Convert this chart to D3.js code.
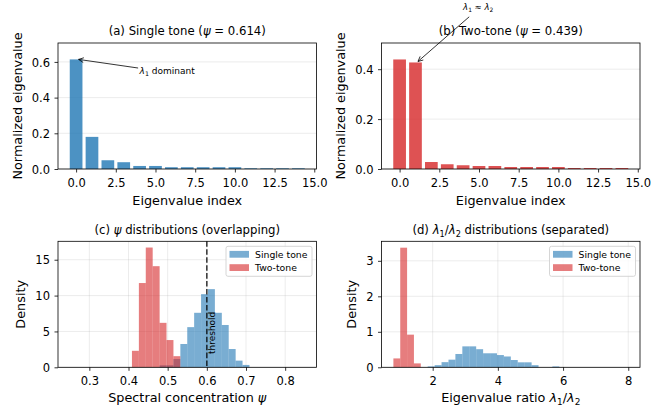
<!DOCTYPE html>
<html><head><meta charset="utf-8">
<script src="https://cdn.jsdelivr.net/npm/d3@7"></script>
<style>
body{margin:0;background:#fff;}
text{font-family:"DejaVu Sans",sans-serif;fill:#000;}
</style>
</head><body>
<svg id="chart" width="662" height="408"></svg>
<script>
// ---------------- data ----------------
const eigIndex = [0,1,2,3,4,5,6,7,8,9,10,11,12,13,14];
const singleEig = [0.614,0.180,0.049,0.038,0.017,0.017,0.010,0.010,0.010,0.010,0.010,0.004,0.004,0.004,0.004];
const twoEig    = [0.439,0.427,0.028,0.019,0.015,0.012,0.012,0.008,0.008,0.008,0.008,0.004,0.004,0.004,0.004];
const eigTicks  = [0,2.5,5,7.5,10,12.5,15];
const eigYTicksA = [0,0.2,0.4,0.6];
const eigYTicksB = [0,0.2,0.4];

// psi histogram (density), shared bins
const psiBinLeft  = [0.4088,0.4265,0.4441,0.4618,0.4794,0.4971,0.5147,0.5324,0.5500,0.5676,0.5853,0.6029,0.6206,0.6382,0.6559,0.6735,0.6912];
const psiBinWidth = 0.01765;
const psiSingle   = [0,0,0,0,0.28,0.28,1.15,3.25,5.6,7.6,10.2,10.9,7.6,5.9,2.55,0.93,0.33];
const psiTwo      = [2.3,11.75,16.7,14.1,6.2,3.8,1.55,0,0,0,0,0,0,0,0,0,0];
const psiXTicks   = [0.3,0.4,0.5,0.6,0.7,0.8];
const psiYTicks   = [0,5,10,15];
const psiThreshold = 0.6;

// eigenvalue ratio histogram (density)
const ratioSingleLeft = [1.847,2.060,2.272,2.485,2.697,2.910,3.122,3.335,3.547,3.760,3.972,4.185,4.397,4.610,4.822,5.035,5.247,5.460,5.672];
const ratioSingleWidth = 0.2125;
const ratioSingle = [0.025,0.06,0.145,0.215,0.375,0.59,0.59,0.51,0.395,0.395,0.345,0.305,0.205,0.14,0.14,0.06,0,0,0.025];
const ratioTwoLeft = [0.795,1.005,1.215,1.425];
const ratioTwoWidth = 0.21;
const ratioTwo = [0.25,3.37,0.92,0.11];
const ratioXTicks = [2,4,6,8];
const ratioYTicks = [0,1,2,3];

// ---------------- style ----------------
const BLUE = "#1f77b4", RED = "#d62728";
const TICK_FS = 11.5, LABEL_FS = 12.8, TITLE_FS = 11.7, LEG_FS = 9.3;

const svg = d3.select("#chart");

function rich(textSel, segs, fs) {
  let shift = 0;
  segs.forEach(s => {
    const ts = textSel.append("tspan").text(s.t);
    if (s.i) ts.attr("font-style", "italic");
    const want = s.sub ? fs * 0.28 : 0;
    if (want !== shift) { ts.attr("dy", want - shift); shift = want; }
    if (s.sub) ts.attr("font-size", fs * 0.7);
  });
  return textSel;
}

function makePanel(cfg) {
  const g = svg.append("g");
  const x = cfg.x, y = cfg.y;
  const [x0, x1] = x.range(), [yb, yt] = y.range();
  // grid
  const grid = g.append("g");
  if (cfg.xgrid) grid.selectAll("line.vx").data(cfg.xticks).join("line")
      .attr("x1", d => x(d)).attr("x2", d => x(d)).attr("y1", yt).attr("y2", yb)
      .attr("stroke", "#b0b0b0").attr("stroke-opacity", 0.3).attr("stroke-width", 0.8);
  grid.selectAll("line.hy").data(cfg.yticks).join("line")
      .attr("x1", x0).attr("x2", x1).attr("y1", d => y(d)).attr("y2", d => y(d))
      .attr("stroke", "#b0b0b0").attr("stroke-opacity", 0.3).attr("stroke-width", 0.8);
  cfg.draw(g);
  // axes
  const ax = g.append("g").attr("transform", `translate(0,${yb})`)
    .call(d3.axisBottom(x).tickValues(cfg.xticks).tickFormat(cfg.xfmt).tickSize(3.5).tickSizeOuter(0).tickPadding(3.5));
  const ay = g.append("g").attr("transform", `translate(${x0},0)`)
    .call(d3.axisLeft(y).tickValues(cfg.yticks).tickFormat(cfg.yfmt).tickSize(3.5).tickSizeOuter(0).tickPadding(4.5));
  [ax, ay].forEach(a => {
    a.select(".domain").remove();
    a.selectAll("line").attr("stroke", "#000").attr("stroke-width", 0.8);
    a.selectAll("text").attr("font-size", TICK_FS).attr("font-family", "DejaVu Sans").attr("fill", "#000");
  });
  ax.selectAll("text").attr("y", 17.9).attr("dy", null);
  ay.selectAll("text").attr("dy", "0.36em");
  // frame
  g.append("rect").attr("x", x0).attr("y", yt).attr("width", x1 - x0).attr("height", yb - yt)
    .attr("fill", "none").attr("stroke", "#000").attr("stroke-width", 0.8);
  // title
  rich(g.append("text").attr("x", (x0 + x1) / 2).attr("y", cfg.titleY).attr("text-anchor", "middle")
    .attr("font-size", TITLE_FS), cfg.title, TITLE_FS);
  // x label
  rich(g.append("text").attr("x", (x0 + x1) / 2).attr("y", cfg.xlabelY).attr("text-anchor", "middle")
    .attr("font-size", LABEL_FS), cfg.xlabel, LABEL_FS);
  // y label
  g.append("text").attr("transform", `translate(${cfg.ylabelX},${(yt + yb) / 2}) rotate(-90)`)
    .attr("text-anchor", "middle").attr("font-size", LABEL_FS).text(cfg.ylabel);
  return g;
}

function bars(g, x, y, vals, color, op) {
  g.append("g").selectAll("rect").data(eigIndex).join("rect")
    .attr("x", i => x(i - 0.4)).attr("width", i => x(i + 0.4) - x(i - 0.4))
    .attr("y", i => y(vals[i])).attr("height", i => y(0) - y(vals[i]))
    .attr("fill", color).attr("fill-opacity", op);
}
function hist(g, x, y, lefts, w, vals, color, op) {
  g.append("g").selectAll("rect").data(lefts.map((l, i) => [l, vals[i]]).filter(d => d[1] > 0)).join("rect")
    .attr("x", d => x(d[0])).attr("width", d => x(d[0] + w) - x(d[0]))
    .attr("y", d => y(d[1])).attr("height", d => y(0) - y(d[1]))
    .attr("fill", color).attr("fill-opacity", op);
}
function arrow(g, sx, sy, tx, ty) {
  g.append("line").attr("x1", sx).attr("y1", sy).attr("x2", tx).attr("y2", ty)
    .attr("stroke", "#000").attr("stroke-width", 0.8);
  const ang = Math.atan2(ty - sy, tx - sx), L = 5, Wd = 2.4;
  const bx = tx - L * Math.cos(ang), by = ty - L * Math.sin(ang);
  const px = -Math.sin(ang) * Wd, py = Math.cos(ang) * Wd;
  g.append("path").attr("d", `M${bx + px},${by + py}L${tx},${ty}L${bx - px},${by - py}`)
    .attr("fill", "none").attr("stroke", "#000").attr("stroke-width", 0.8);
}
function legend(g, xr, yt) {
  const w = 86, h = 30, lx = xr - 4.5 - w, ly = yt + 5;
  g.append("rect").attr("x", lx).attr("y", ly).attr("width", w).attr("height", h).attr("rx", 2)
    .attr("fill", "#fff").attr("fill-opacity", 0.8).attr("stroke", "#ccc").attr("stroke-width", 0.8);
  [["Single tone", BLUE], ["Two-tone", RED]].forEach((e, i) => {
    const cy = ly + 8 + i * 13.3;
    g.append("rect").attr("x", lx + 3.5).attr("y", cy - 3.4).attr("width", 19.5).attr("height", 6.8)
      .attr("fill", e[1]).attr("fill-opacity", 0.6);
    g.append("text").attr("x", lx + 29).attr("y", cy).attr("dy", "0.36em").attr("font-size", LEG_FS).text(e[0]);
  });
}

// ---------- (a) ----------
const xA = d3.scaleLinear().domain([-1.14, 15.14]).range([58, 316.5]);
const yA = d3.scaleLinear().domain([0, 0.706]).range([169, 43]);
makePanel({
  x: xA, y: yA, xticks: eigTicks, yticks: eigYTicksA, xgrid: false,
  xfmt: d3.format(".1f"), yfmt: d3.format(".1f"),
  title: [{t: "(a) Single tone ("}, {t: "ψ", i: true}, {t: " = 0.614)"}], titleY: 35,
  xlabel: [{t: "Eigenvalue index"}], xlabelY: 204.5,
  ylabel: "Normalized eigenvalue", ylabelX: 22,
  draw: g => {
    bars(g, xA, yA, singleEig, BLUE, 0.8);
  }
});
{
  const g = svg.append("g");
  const tx = xA(0) + 2.5, ty = yA(singleEig[0]);
  const lx = xA(4), ly = yA(0.535);
  arrow(g, lx - 1.5, ly - 5.5, tx, ty);
  rich(g.append("text").attr("x", lx).attr("y", ly).attr("font-size", 9), [{t: "λ", i: true}, {t: "1", sub: true}, {t: " dominant"}], 9);
}

// ---------- (b) ----------
const xB = d3.scaleLinear().domain([-1.14, 15.14]).range([381.5, 640]);
const yB = d3.scaleLinear().domain([0, 0.505]).range([169, 43]);
makePanel({
  x: xB, y: yB, xticks: eigTicks, yticks: eigYTicksB, xgrid: false,
  xfmt: d3.format(".1f"), yfmt: d3.format(".1f"),
  title: [{t: "(b) Two-tone ("}, {t: "ψ", i: true}, {t: " = 0.439)"}], titleY: 35,
  xlabel: [{t: "Eigenvalue index"}], xlabelY: 204.5,
  ylabel: "Normalized eigenvalue", ylabelX: 344.7,
  draw: g => {
    bars(g, xB, yB, twoEig, RED, 0.8);
  }
});
{
  const g = svg.append("g");
  const tx = xB(1) + 2.5, ty = yB(twoEig[1]) - 1;
  const lx = xB(4.95), ly = 9.8;
  arrow(g, lx - 9, ly + 7, tx, ty);
  rich(g.append("text").attr("x", lx).attr("y", ly).attr("text-anchor", "middle").attr("font-size", 8.5),
    [{t: "λ", i: true}, {t: "1", sub: true}, {t: " ≈ "}, {t: "λ", i: true}, {t: "2", sub: true}], 8.5);
}

// ---------- (c) ----------
const xC = d3.scaleLinear().domain([0.22, 0.88]).range([58, 316.5]);
const yC = d3.scaleLinear().domain([0, 17.57]).range([367.3, 241.3]);
makePanel({
  x: xC, y: yC, xticks: psiXTicks, yticks: psiYTicks, xgrid: true,
  xfmt: d3.format(".1f"), yfmt: d3.format("d"),
  title: [{t: "(c) "}, {t: "ψ", i: true}, {t: " distributions (overlapping)"}], titleY: 233.6,
  xlabel: [{t: "Spectral concentration "}, {t: "ψ", i: true}], xlabelY: 401.5,
  ylabel: "Density", ylabelX: 25.3,
  draw: g => {
    hist(g, xC, yC, psiBinLeft, psiBinWidth, psiSingle, BLUE, 0.6);
    hist(g, xC, yC, psiBinLeft, psiBinWidth, psiTwo, RED, 0.6);
    g.append("line").attr("x1", xC(psiThreshold)).attr("x2", xC(psiThreshold))
      .attr("y1", yC.range()[1]).attr("y2", yC.range()[0])
      .attr("stroke", "#000").attr("stroke-opacity", 0.8).attr("stroke-width", 1.5)
      .attr("stroke-dasharray", "5.55,2.4");
    g.append("text").attr("transform", `translate(${xC(psiThreshold) + 7.5},${yC(4.8)}) rotate(-90)`)
      .attr("text-anchor", "middle").attr("dy", "0.1em").attr("font-size", 9).text("threshold");
    legend(g, xC.range()[1], yC.range()[1]);
  }
});

// ---------- (d) ----------
const xD = d3.scaleLinear().domain([0.43, 8.36]).range([381.5, 640]);
const yD = d3.scaleLinear().domain([0, 3.55]).range([367.3, 241.3]);
makePanel({
  x: xD, y: yD, xticks: ratioXTicks, yticks: ratioYTicks, xgrid: true,
  xfmt: d3.format("d"), yfmt: d3.format("d"),
  title: [{t: "(d) "}, {t: "λ", i: true}, {t: "1", sub: true}, {t: "/"}, {t: "λ", i: true}, {t: "2", sub: true}, {t: " distributions (separated)"}], titleY: 233.6,
  xlabel: [{t: "Eigenvalue ratio "}, {t: "λ", i: true}, {t: "1", sub: true}, {t: "/"}, {t: "λ", i: true}, {t: "2", sub: true}], xlabelY: 401.5,
  ylabel: "Density", ylabelX: 356.3,
  draw: g => {
    hist(g, xD, yD, ratioSingleLeft, ratioSingleWidth, ratioSingle, BLUE, 0.6);
    hist(g, xD, yD, ratioTwoLeft, ratioTwoWidth, ratioTwo, RED, 0.6);
    legend(g, xD.range()[1], yD.range()[1]);
  }
});
</script>
</body></html>
